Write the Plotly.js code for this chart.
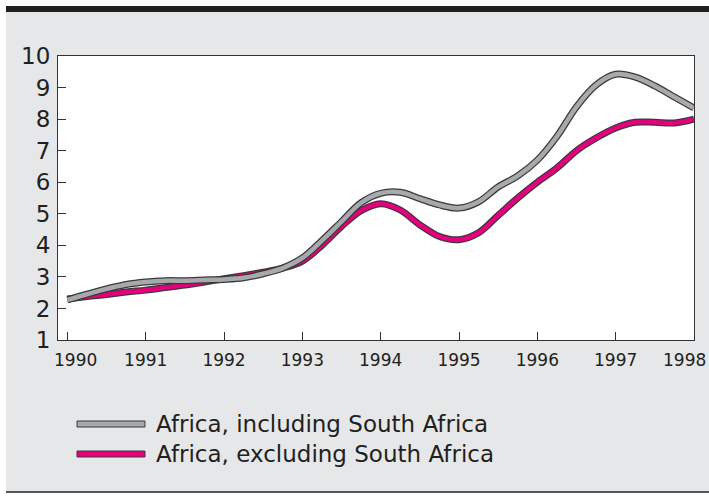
<!DOCTYPE html>
<html><head><meta charset="utf-8">
<script src="https://cdn.plot.ly/plotly-3.0.1.min.js"></script>
<style>html,body{margin:0;padding:0;background:#fff}#chart{width:709px;height:501px}</style>
</head><body><div id="chart"></div>
<script>
const years = [1990,1990.25,1990.5,1990.75,1991,1991.25,1991.5,1991.75,1992,1992.25,1992.5,1992.75,1993,1993.25,1993.5,1993.75,1994,1994.25,1994.5,1994.75,1995,1995.25,1995.5,1995.75,1996,1996.25,1996.5,1996.75,1997,1997.25,1997.5,1997.75,1998];
const inclSA = [2.27,2.45,2.62,2.76,2.84,2.88,2.88,2.9,2.92,2.97,3.1,3.28,3.6,4.15,4.75,5.35,5.65,5.68,5.48,5.28,5.18,5.38,5.85,6.2,6.7,7.45,8.39,9.08,9.42,9.33,9.05,8.7,8.35];
const exclSA = [2.3,2.38,2.44,2.52,2.58,2.66,2.74,2.84,2.94,3.04,3.15,3.28,3.5,4.0,4.6,5.1,5.32,5.12,4.65,4.28,4.18,4.4,4.95,5.5,6.0,6.45,7.0,7.4,7.72,7.9,7.9,7.88,8.0];
const seriesNames = ["Africa, including South Africa","Africa, excluding South Africa"];
const tickYears = [1990,1991,1992,1993,1994,1995,1996,1997,1998];
const tickLabels = ["1990","1991","1992","1993","1994","1995","1996","1997","1998"];
const tickVals = [1,2,3,4,5,6,7,8,9,10];

const GRAY = "#a7a9ac", MAG = "#e6007e", OUT = "#3a3a3a", BG = "#e6e7e8", INK = "#231f20";
const FONT = "DejaVu Sans, Liberation Sans, sans-serif";

function band(y, color) {
  return [
    {x: years, y: y, mode: "lines", line: {color: OUT, width: 7, shape: "spline", smoothing: 1}, hoverinfo: "skip", showlegend: false},
    {x: years, y: y, mode: "lines", line: {color: color, width: 4.5, shape: "spline", smoothing: 1}, showlegend: false}
  ];
}
const data = [...band(exclSA, MAG), ...band(inclSA, GRAY)];

// pixel -> paper helpers (plot area: x 58..694, y 56..340)
const L = 58, T = 56, W = 636, H = 284;
const px = v => (v - L) / W;
const py = v => (T + H - v) / H;

const shapes = [
  {type: "rect", xref: "paper", yref: "paper", x0: px(0), x1: px(6), y0: py(0), y1: py(501), fillcolor: "#fff", line: {width: 0}, layer: "above"},
  {type: "rect", xref: "paper", yref: "paper", x0: px(0), x1: px(709), y0: py(0), y1: py(6), fillcolor: "#fff", line: {width: 0}, layer: "above"},
  {type: "rect", xref: "paper", yref: "paper", x0: px(0), x1: px(709), y0: py(492), y1: py(501), fillcolor: "#fff", line: {width: 0}, layer: "above"},
  {type: "rect", xref: "paper", yref: "paper", x0: px(6), x1: px(709), y0: py(6), y1: py(12), fillcolor: INK, line: {width: 0}, layer: "above"},
  {type: "line", xref: "paper", yref: "paper", x0: px(6), x1: px(709), y0: py(492), y1: py(492), line: {color: "#555", width: 2}, layer: "above"},
  {type: "rect", xref: "paper", yref: "paper", x0: px(77), x1: px(145), y0: py(421), y1: py(427), fillcolor: GRAY, line: {color: OUT, width: 1}, layer: "above"},
  {type: "rect", xref: "paper", yref: "paper", x0: px(77), x1: px(145), y0: py(451), y1: py(457), fillcolor: MAG, line: {color: OUT, width: 1}, layer: "above"}
];
const TICKFONT = {family: FONT, size: 17, color: INK};
const annotations = [
  {xref: "paper", yref: "paper", x: px(154), y: py(424), text: seriesNames[0], showarrow: false, xanchor: "left", yanchor: "middle", font: {family: FONT, size: 23, color: INK}},
  {xref: "paper", yref: "paper", x: px(154), y: py(454), text: seriesNames[1], showarrow: false, xanchor: "left", yanchor: "middle", font: {family: FONT, size: 23, color: INK}},
  // edge year labels nudged inward as in the reference
  {xref: "x", yref: "paper", x: tickYears[0], y: py(360), xshift: 8, text: tickLabels[0], showarrow: false, xanchor: "center", yanchor: "middle", font: TICKFONT},
  {xref: "x", yref: "paper", x: tickYears[8], y: py(360), xshift: 14, text: tickLabels[8], showarrow: false, xanchor: "right", yanchor: "middle", font: TICKFONT}
];
const axisText = tickLabels.map((t, i) => (i === 0 || i === tickLabels.length - 1) ? "" : t);

const layout = {
  width: 709, height: 501,
  margin: {l: L, r: 709 - L - W, t: T, b: 501 - T - H, pad: 0},
  paper_bgcolor: BG, plot_bgcolor: "#fff",
  showlegend: false,
  font: {family: FONT, color: INK},
  xaxis: {range: [1989.88, 1998.0005], tickvals: tickYears, ticktext: axisText, ticks: "inside", ticklen: 8, tickcolor: "#333", tickwidth: 1,
          showline: true, mirror: true, linecolor: "#333", linewidth: 1, showgrid: false, zeroline: false, fixedrange: true,
          ticklabelstandoff: 5,
          tickfont: TICKFONT},
  yaxis: {range: [1, 10], tickvals: tickVals, ticks: "inside", ticklen: 8, tickcolor: "#333", tickwidth: 1,
          showline: true, mirror: true, linecolor: "#333", linewidth: 1, showgrid: false, zeroline: false, fixedrange: true,
          ticklabelstandoff: 2,
          tickfont: {family: FONT, size: 23, color: INK}},
  shapes: shapes, annotations: annotations
};
Plotly.newPlot("chart", data, layout, {displayModeBar: false, staticPlot: true});
</script></body></html>
